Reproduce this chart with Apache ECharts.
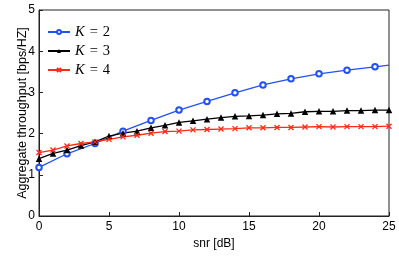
<!DOCTYPE html>
<html><head><meta charset="utf-8">
<script src="https://cdn.jsdelivr.net/npm/echarts@6/dist/echarts.min.js"></script>
<style>html,body{margin:0;padding:0;background:#fff}#c{width:399px;height:260px}</style>
</head><body><div id="c"></div>
<script>
const snrK2 = [0,2,4,6,8,10,12,14,16,18,20,22,24,25];
const thrK2 = [1.18,1.51,1.76,2.06,2.32,2.57,2.78,2.99,3.18,3.33,3.45,3.54,3.62,3.66];
const snrK34 = [0,1,2,3,4,5,6,7,8,9,10,11,12,13,14,15,16,17,18,19,20,21,22,23,24,25];
const thrK3 = [1.39,1.52,1.60,1.71,1.80,1.94,2.01,2.06,2.14,2.20,2.27,2.31,2.35,2.39,2.42,2.43,2.45,2.48,2.49,2.53,2.54,2.54,2.56,2.56,2.57,2.57];
const thrK4 = [1.54,1.60,1.70,1.76,1.80,1.86,1.92,1.96,2.01,2.05,2.06,2.09,2.10,2.11,2.12,2.14,2.14,2.15,2.15,2.16,2.17,2.16,2.17,2.17,2.17,2.18];
const names = ['K2','K3','K4'];
const legendLabels = {K2:'2',K3:'3',K4:'4'};
const xTicks = {min:0,max:25,interval:5};
const yTicks = {min:0,max:5,interval:1};

const blue = '#2450f5', black = '#000000', red = '#ff2a17';
const cross = 'path://M0,0L10,10M10,0L0,10';

const chart = echarts.init(document.getElementById('c'), null, {renderer:'canvas'});
const k2Data = snrK2.map((x,i)=> i === snrK2.length-1 && x % 2 === 1 ? {value:[x,thrK2[i]], symbol:'none'} : [x,thrK2[i]]);
chart.setOption({
  animation:false,
  backgroundColor:'#fff',
  grid:{left:39,right:10,top:10,bottom:44,show:true,borderColor:'#222',borderWidth:1,backgroundColor:'transparent',
        containLabel:false, outerBoundsMode:'none'},
  legend:{
    left:47, top:24.5, padding:0, orient:'vertical', itemWidth:22, itemHeight:5, itemGap:4,
    data:names,
    formatter: n => '{k|K}{e|=}{t|' + legendLabels[n] + '}',
    textStyle:{rich:{
      k:{fontFamily:'Liberation Serif',fontStyle:'italic',fontSize:14.5,color:'#000',lineHeight:16},
      e:{fontFamily:'Liberation Serif',fontSize:14.5,color:'#000',padding:[0,5],lineHeight:16},
      t:{fontFamily:'Liberation Serif',fontSize:14.5,color:'#000',lineHeight:16}
    }}
  },
  xAxis:{
    type:'value', min:xTicks.min, max:xTicks.max, interval:xTicks.interval,
    name:'snr [dB]', nameLocation:'middle', nameGap:22, nameMoveOverlap:false,
    nameTextStyle:{fontFamily:'Liberation Sans',fontSize:12,color:'#000'},
    axisLine:{lineStyle:{color:'#222',width:1}},
    axisTick:{inside:true,length:4,lineStyle:{color:'#222'}},
    axisLabel:{fontFamily:'Liberation Sans',fontSize:12,color:'#000',margin:5},
    splitLine:{show:false}
  },
  yAxis:{
    type:'value', min:yTicks.min, max:yTicks.max, interval:yTicks.interval,
    name:'Aggregate throughput [bps/HZ]', nameLocation:'middle', nameGap:10, nameMoveOverlap:false,
    nameTextStyle:{fontFamily:'Liberation Sans',fontSize:12.5,color:'#000'},
    axisLine:{show:true,lineStyle:{color:'#222',width:1}},
    axisTick:{show:true,inside:true,length:4,lineStyle:{color:'#222'}},
    axisLabel:{fontFamily:'Liberation Sans',fontSize:12,color:'#000',margin:4},
    splitLine:{show:false}
  },
  series:[
    {name:'K2', type:'line', data:k2Data, symbol:'emptyCircle', symbolSize:5.5,
     lineStyle:{color:blue,width:1.3}, itemStyle:{color:blue,borderColor:blue,borderWidth:1.1}},
    {name:'K3', type:'line', data:snrK34.map((x,i)=>[x,thrK3[i]]), symbol:'triangle', symbolSize:6.5,
     lineStyle:{color:black,width:1.3}, itemStyle:{color:black}},
    {name:'K4', type:'line', data:snrK34.map((x,i)=>[x,thrK4[i]]), symbol:cross, symbolSize:5,
     lineStyle:{color:red,width:1.3}, itemStyle:{color:red,borderColor:red,borderWidth:1.3}}
  ]
});
</script></body></html>
